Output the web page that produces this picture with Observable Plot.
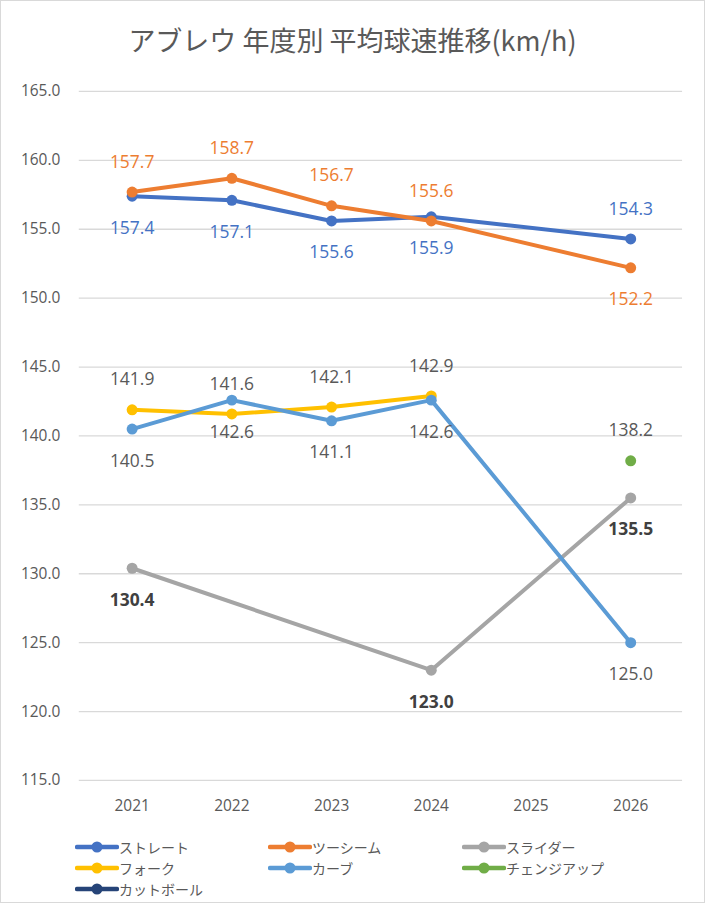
<!DOCTYPE html>
<html><head><meta charset="utf-8">
<script src="https://cdn.jsdelivr.net/npm/d3@7"></script>
<script src="https://cdn.jsdelivr.net/npm/@observablehq/plot@0.6"></script>
<style>
html,body{margin:0;padding:0;background:#fff;}
#wrap{position:relative;width:705px;height:903px;box-sizing:border-box;border:1px solid #d9d9d9;overflow:hidden;font-family:"Noto Sans CJK JP","Noto Sans",sans-serif;}
#title{position:absolute;left:0;top:23px;width:100%;text-align:center;font-size:27px;color:#595959;font-family:"Noto Sans CJK JP",sans-serif;line-height:1.2;}
#chart{position:absolute;left:0;top:70px;}
#legend{position:absolute;left:0;top:837px;width:100%;}
.li{position:absolute;display:flex;align-items:center;font-size:14px;line-height:1;color:#595959;height:18px;white-space:nowrap;}
.li span{display:inline-block;line-height:1;}
</style></head>
<body><div id="wrap"><div id="title">アブレウ 年度別 平均球速推移(km/h)</div><div id="chart"></div><div id="legend"></div></div>
<script>
const years = ["2021","2022","2023","2024","2025","2026"];
const seriesNames = ["ストレート","ツーシーム","スライダー","フォーク","カーブ","チェンジアップ","カットボール"];
const seriesColors = ["#4472C4","#ED7D31","#A5A5A5","#FFC000","#5B9BD5","#70AD47","#264478"];
const straight = [157.4,157.1,155.6,155.9,null,154.3];
const twoSeam  = [157.7,158.7,156.7,155.6,null,152.2];
const slider   = [130.4,null,null,123.0,null,135.5];
const fork     = [141.9,141.6,142.1,142.9,null,null];
const curve    = [140.5,142.6,141.1,142.6,null,125.0];
const changeup = [null,null,null,null,null,138.2];
const cutBall  = [null,null,null,null,null,null];
const yTicks = [115,120,125,130,135,140,145,150,155,160,165];

// label placement (u = above, d = below) and label colours
const labelSide = [
  ["d","d","d","d",null,"u"],
  ["u","u","u","u",null,"d"],
  ["d",null,null,"d",null,"d"],
  ["u","u","u","u",null,null],
  ["d","d","d","d",null,"d"],
  [null,null,null,null,null,"u"],
  [null,null,null,null,null,null]
];
const labelColors = ["#4472C4","#ED7D31","#404040","#595959","#595959","#595959","#595959"];
const labelBold = [false,false,true,false,false,false,false];

const allValues = [straight,twoSeam,slider,fork,curve,changeup,cutBall];
const rows = [];
allValues.forEach((vals,si)=>{
  vals.forEach((v,i)=>{
    if (v!=null) rows.push({series:seriesNames[si], year:years[i], value:v, side:labelSide[si][i], lc:labelColors[si], bold:labelBold[si], order:si});
  });
});

const font = "'Open Sans','Noto Sans',sans-serif";
const marks = [
  Plot.gridY(yTicks,{stroke:"#d9d9d9",strokeOpacity:1,strokeWidth:1.3}),
  Plot.axisY(yTicks,{tickSize:0,tickPadding:19,tickFormat:d=>d.toFixed(1),fontSize:15.5,fill:"#595959",fontFamily:font}),
  Plot.axisX({tickSize:0,tickPadding:20,fontSize:15.5,fill:"#595959",fontFamily:font})
];
seriesNames.forEach((name,si)=>{
  const d = rows.filter(r=>r.order===si);
  if (!d.length) return;
  marks.push(Plot.line(d,{x:"year",y:"value",stroke:seriesColors[si],strokeWidth:4,curve:"linear",strokeLinecap:"round",strokeLinejoin:"round"}));
  marks.push(Plot.dot(d,{x:"year",y:"value",fill:seriesColors[si],stroke:"none",r:5.5}));
});
[["u",-30],["d",32]].forEach(([s,dy])=>{
  [false,true].forEach(b=>{
    marks.push(Plot.text(rows.filter(r=>r.side===s&&r.bold===b),{x:"year",y:"value",text:d=>d.value.toFixed(1),fill:"lc",dy,fontSize:17.5,fontWeight:b?"bold":"normal",fontFamily:font}));
  });
});

const chart = Plot.plot({
  width:705,height:751,
  marginLeft:78,marginRight:22,marginTop:20,marginBottom:40,
  x:{type:"point",domain:years,padding:0.5,label:null},
  y:{domain:[115,165],label:null},
  style:{background:"transparent",overflow:"visible"},
  marks
});
document.getElementById("chart").appendChild(chart);

// legend
const lg = document.getElementById("legend");
const colX = [74,267,461];
seriesNames.forEach((name,i)=>{
  const el = document.createElement("div");
  el.className="li";
  el.style.left = colX[i%3]+"px";
  el.style.top = (Math.floor(i/3)*21)+"px";
  el.innerHTML = `<svg width="44" height="12"><line x1="2" y1="6" x2="42" y2="6" stroke="${seriesColors[i]}" stroke-width="4.5" stroke-linecap="round"/><circle cx="22" cy="6" r="5.5" fill="${seriesColors[i]}"/></svg><span>${name}</span>`;
  lg.appendChild(el);
});
</script></body></html>
